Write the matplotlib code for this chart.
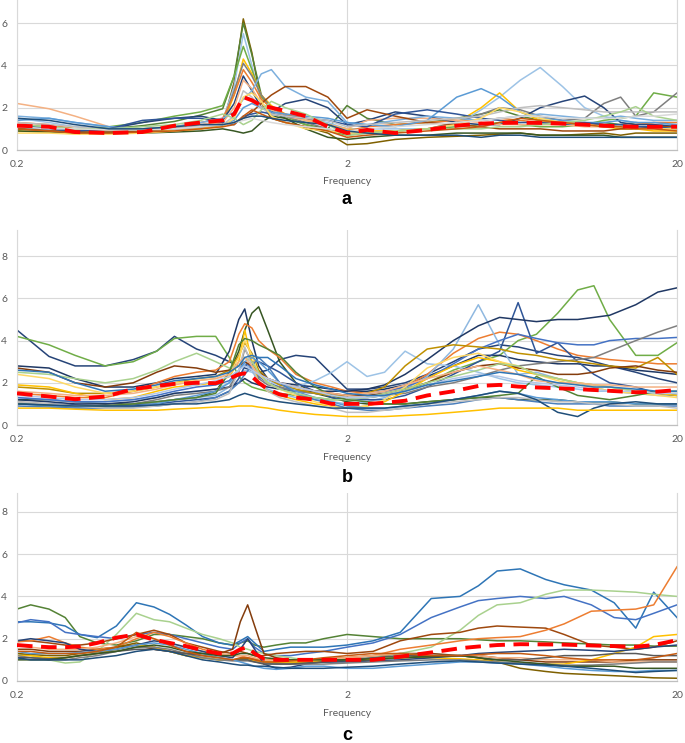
import matplotlib
matplotlib.use("Agg")
import matplotlib.pyplot as plt
from matplotlib.ticker import NullLocator

# ---------------- data ----------------
X_TICKS = [0.2, 2, 20]
X_TICK_LABELS = ["0.2", "2", "20"]
X_LABEL = "Frequency"
PANEL_LETTERS = ["a", "b", "c"]

# panel a
FA = [0.2, 0.25, 0.3, 0.38, 0.48, 0.6, 0.72, 0.84, 0.91, 0.97, 1.03, 1.1, 1.18, 1.3, 1.5, 1.75,
      2.0, 2.3, 2.8, 3.5, 4.3, 5.1, 5.8, 6.7, 7.7, 9.0, 10.5, 12, 13.5, 15, 17, 20]
A_COLORS = ['#7F6000', '#548235', '#9DC3E6', '#70AD47', '#FFC000', '#7F7F7F', '#ED7D31', '#264478',
            '#F4B183', '#7CAFDD', '#9E480E', '#5B9BD5', '#2F5597', '#BFBFBF', '#385723', '#FFD966',
            '#A9D18E', '#C55A11', '#D9D9D9', '#1F4E79']
A_LINES = [
    [1.0, 0.95, 0.85, 0.8, 0.85, 0.9, 1.0, 1.2, 3.2, 6.2, 4.6, 2.2, 1.5, 1.3, 1.1, 0.8,
     0.25, 0.3, 0.5, 0.6, 0.65, 0.7, 0.75, 0.8, 0.7, 0.7, 0.75, 0.8, 0.7, 0.8, 0.8, 0.8],
    [1.1, 1.0, 0.95, 1.0, 1.15, 1.35, 1.65, 1.95, 3.5, 6.0, 4.5, 2.6, 1.8, 1.5, 1.2, 1.0,
     2.1, 1.5, 1.2, 1.3, 1.5, 1.7, 1.9, 1.6, 1.4, 1.3, 1.2, 1.3, 1.2, 1.3, 1.2, 1.1],
    [1.5, 1.3, 1.1, 1.0, 1.0, 1.1, 1.2, 1.4, 3.0, 5.5, 4.0, 2.2, 1.8, 1.6, 1.5, 1.3,
     1.0, 1.0, 1.0, 1.0, 1.2, 1.9, 2.5, 3.3, 3.9, 3.0, 2.0, 1.6, 1.4, 1.3, 1.2, 1.2],
    [1.2, 1.1, 1.0, 1.1, 1.3, 1.6, 1.8, 2.1, 3.5, 4.9, 3.8, 2.5, 2.0, 1.6, 1.2, 0.9,
     0.7, 0.8, 0.9, 1.0, 1.1, 1.2, 1.3, 1.2, 1.1, 1.1, 1.2, 1.4, 1.5, 1.6, 2.7, 2.5],
    [0.9, 0.85, 0.8, 0.8, 0.85, 0.9, 1.0, 1.2, 2.6, 4.3, 3.6, 2.6, 2.1, 1.7, 1.4, 1.2,
     1.0, 0.9, 0.9, 1.0, 1.3, 2.0, 2.7, 1.8, 1.4, 1.3, 1.2, 1.1, 1.0, 1.0, 0.9, 0.9],
    [1.0, 0.95, 0.9, 0.9, 0.95, 1.0, 1.1, 1.3, 2.8, 4.1, 3.5, 2.6, 2.0, 1.6, 1.3, 1.0,
     0.8, 0.8, 0.9, 1.0, 1.3, 1.7, 2.0, 1.9, 1.6, 1.4, 1.5, 2.2, 2.5, 1.6, 1.8, 2.7],
    [1.3, 1.2, 1.0, 0.95, 1.0, 1.1, 1.3, 1.5, 2.6, 3.8, 3.2, 2.4, 2.0, 1.7, 1.5, 1.2,
     0.9, 1.1, 1.2, 1.3, 1.4, 1.4, 1.5, 1.4, 1.3, 1.3, 1.2, 1.2, 1.1, 1.2, 1.3, 1.3],
    [1.2, 1.0, 0.9, 1.0, 1.3, 1.5, 1.6, 1.4, 2.2, 3.5, 2.8, 2.0, 1.8, 2.2, 2.4, 2.0,
     1.2, 1.4, 1.8, 1.6, 1.3, 1.2, 1.2, 1.5, 2.0, 2.3, 2.55, 2.0, 1.3, 1.2, 1.2, 1.1],
    [2.2, 1.95, 1.6, 1.1, 1.0, 1.1, 1.2, 1.3, 2.0, 3.3, 2.9, 2.2, 1.9, 1.6, 1.4, 1.2,
     1.0, 1.4, 1.5, 1.5, 1.4, 1.3, 1.2, 1.2, 1.2, 1.2, 1.1, 1.1, 1.1, 1.1, 1.0, 1.0],
    [1.6, 1.5, 1.3, 1.1, 1.0, 1.1, 1.3, 1.5, 1.8, 2.4, 2.8, 3.6, 3.8, 3.0, 2.5, 2.3,
     1.3, 1.2, 1.4, 1.6, 1.5, 1.4, 1.5, 1.6, 1.7, 1.6, 1.5, 1.5, 1.6, 1.5, 1.4, 1.4],
    [1.0, 0.9, 0.85, 0.85, 0.9, 1.0, 1.1, 1.2, 1.3, 1.5, 1.8, 2.2, 2.6, 3.0, 3.0, 2.5,
     1.5, 1.9, 1.6, 1.3, 1.2, 1.1, 1.0, 1.0, 1.0, 0.9, 0.9, 0.9, 1.0, 1.0, 1.1, 1.1],
    [1.4, 1.5, 1.3, 1.1, 1.0, 1.0, 1.1, 1.2, 1.4, 2.0, 2.2, 2.0, 1.8, 1.7, 1.6, 1.5,
     1.3, 1.2, 1.1, 1.4, 2.5, 2.9, 2.5, 1.8, 1.5, 1.4, 1.3, 1.3, 1.4, 1.3, 1.3, 1.2],
    [1.1, 1.0, 0.9, 1.0, 1.4, 1.5, 1.5, 1.3, 1.2, 1.6, 1.7, 1.8, 1.7, 1.6, 1.5, 1.4,
     1.2, 1.1, 1.7, 1.9, 1.7, 1.5, 1.4, 1.3, 1.3, 1.2, 1.3, 1.2, 1.2, 1.1, 1.1, 1.0],
    [1.3, 1.2, 1.1, 1.0, 1.0, 1.0, 1.1, 1.2, 1.6, 2.8, 2.5, 2.0, 1.7, 1.6, 1.5, 1.4,
     1.1, 1.2, 1.3, 1.4, 1.5, 1.6, 1.8, 2.0, 2.1, 2.0, 1.9, 1.8, 1.8, 1.8, 1.8, 1.8],
    [0.9, 0.85, 0.8, 0.8, 0.8, 0.85, 0.9, 1.0, 0.9, 0.8, 0.9, 1.3, 1.6, 1.5, 1.0, 0.6,
     0.5, 0.6, 0.7, 0.7, 0.8, 0.8, 0.8, 0.8, 0.7, 0.7, 0.7, 0.7, 0.6, 0.6, 0.6, 0.6],
    [0.8, 0.8, 0.75, 0.75, 0.8, 0.9, 1.0, 1.1, 1.5, 2.5, 2.7, 2.3, 1.6, 1.3, 1.0, 0.9,
     0.8, 0.8, 0.9, 1.0, 1.2, 1.5, 2.0, 1.8, 1.5, 1.3, 1.2, 1.1, 1.1, 1.0, 1.0, 1.0],
    [1.2, 1.1, 1.0, 1.0, 1.1, 1.2, 1.4, 1.7, 1.5, 1.2, 1.4, 1.9, 2.3, 2.0, 1.7, 1.2,
     0.7, 0.8, 0.9, 1.0, 1.0, 1.0, 1.1, 1.1, 1.2, 1.3, 1.4, 1.6, 1.8, 2.05, 1.6, 1.4],
    [1.0, 0.9, 0.8, 0.8, 0.85, 0.9, 1.0, 1.1, 1.2, 1.6, 1.9, 1.7, 1.5, 1.3, 1.1, 0.9,
     0.6, 0.7, 0.8, 0.9, 1.0, 1.1, 1.3, 1.5, 1.4, 1.3, 1.2, 1.1, 1.1, 1.0, 1.0, 0.9],
    [1.1, 1.0, 1.0, 0.95, 0.95, 1.0, 1.1, 1.2, 1.3, 1.4, 1.5, 1.4, 1.3, 1.2, 1.1, 1.0,
     0.9, 1.0, 1.1, 1.2, 1.3, 1.4, 1.5, 1.6, 1.6, 1.5, 1.5, 1.5, 1.5, 1.6, 1.6, 1.7],
    [1.5, 1.4, 1.2, 1.0, 1.0, 1.1, 1.2, 1.2, 1.3, 1.5, 1.6, 1.6, 1.5, 1.4, 1.3, 1.2,
     0.9, 0.8, 0.7, 0.7, 0.7, 0.6, 0.7, 0.7, 0.6, 0.6, 0.6, 0.6, 0.6, 0.6, 0.6, 0.6],
]
A_MEAN = [1.15, 1.1, 0.85, 0.8, 0.85, 1.15, 1.3, 1.4, 1.7, 2.5, 2.35, 2.1, 2.0, 1.85, 1.6, 1.1,
          0.8, 0.95, 0.8, 0.95, 1.15, 1.25, 1.28, 1.29, 1.28, 1.25, 1.2, 1.15, 1.12, 1.1, 1.1, 1.1]

# panel b
FB = [0.2, 0.25, 0.3, 0.37, 0.45, 0.53, 0.6, 0.7, 0.8, 0.88, 0.94, 0.98, 1.03, 1.08, 1.15, 1.25,
      1.4, 1.6, 1.8, 2.0, 2.3, 2.6, 3.0, 3.5, 4.2, 5.0, 5.8, 6.6, 7.5, 8.7, 10, 11.2,
      12.5, 15, 17.5, 20]
B_COLORS = ['#264478', '#70AD47', '#1F3864', '#375623', '#ED7D31', '#9DC3E6', '#8FB8E0', '#2F5597',
            '#203864', '#4472C4', '#7F7F7F', '#BF9000', '#843C0C', '#FFC000', '#FFD966', '#5B9BD5',
            '#4A7EBB', '#A9D18E', '#548235', '#BFBFBF', '#1F4E79', '#F4B183', '#B4C7E7', '#2E75B6',
            '#FFC000']
B_LINES = [
    [4.5, 3.25, 2.8, 2.8, 3.1, 3.5, 4.2, 3.6, 3.3, 3.0, 2.8, 2.7, 2.6, 2.5, 2.6, 3.1,
     3.3, 3.2, 2.4, 1.7, 1.7, 1.8, 2.0, 2.4, 3.0, 3.6, 3.8, 3.7, 3.5, 3.3, 3.2, 3.0,
     2.8, 2.5, 2.2, 2.0],
    [4.2, 3.8, 3.3, 2.8, 3.0, 3.5, 4.1, 4.2, 4.2, 3.2, 2.3, 2.0, 1.8, 1.7, 1.6, 1.5,
     1.4, 1.3, 1.2, 1.2, 1.3, 1.4, 1.6, 2.0, 2.6, 3.0, 3.3, 4.0, 4.3, 5.3, 6.4, 6.6,
     5.0, 3.3, 3.3, 3.9],
    [2.8, 2.7, 2.2, 1.8, 1.8, 2.0, 2.2, 2.3, 2.4, 3.5, 5.0, 5.5, 4.0, 2.8, 2.2, 2.0,
     1.9, 1.8, 1.7, 1.6, 1.6, 1.7, 1.9, 2.3, 2.8, 3.3, 3.3, 3.1, 3.0, 2.9, 2.9, 2.8,
     2.8, 2.6, 2.5, 2.4],
    [1.2, 1.2, 1.1, 1.0, 1.0, 1.1, 1.2, 1.3, 1.6, 2.5, 3.5, 4.5, 5.3, 5.6, 4.5, 3.0,
     2.0, 1.5, 1.3, 1.1, 1.0, 1.0, 1.0, 1.1, 1.2, 1.3, 1.3, 1.2, 1.2, 1.2, 1.1, 1.1,
     1.1, 1.0, 1.0, 1.0],
    [1.5, 1.4, 1.3, 1.3, 1.6, 2.0, 2.3, 2.5, 2.6, 3.0, 4.3, 4.8, 4.6, 4.0, 3.6, 3.2,
     2.4, 2.0, 1.8, 1.6, 1.5, 1.6, 1.8, 2.4, 3.4, 4.1, 4.4, 4.3, 4.0, 3.6, 3.3, 3.2,
     3.1, 3.0, 2.9, 2.9],
    [1.3, 1.2, 1.1, 1.1, 1.2, 1.3, 1.5, 1.6, 1.7, 2.0, 2.4, 2.6, 2.5, 2.3, 2.1, 1.9,
     1.8, 2.1, 2.5, 3.0, 2.3, 2.5, 3.5, 2.9, 2.8, 2.5, 2.2, 2.0, 1.9, 1.8, 1.7, 1.6,
     1.6, 1.5, 1.5, 1.4],
    [1.0, 0.95, 0.9, 0.9, 1.0, 1.1, 1.2, 1.3, 1.4, 1.8, 2.6, 2.9, 2.6, 2.0, 1.7, 1.5,
     1.3, 1.2, 1.1, 1.0, 1.1, 1.3, 1.7, 2.3, 3.6, 5.7, 3.8, 2.4, 2.5, 2.2, 2.0, 1.8,
     1.6, 1.5, 1.4, 1.4],
    [1.0, 1.0, 0.95, 0.9, 0.95, 1.0, 1.1, 1.2, 1.3, 1.6, 2.2, 2.8, 3.0, 3.0, 2.8, 2.5,
     2.0, 1.6, 1.3, 1.2, 1.2, 1.2, 1.4, 1.8, 2.4, 3.0, 3.5, 5.8, 3.4, 3.9, 3.0, 2.4,
     2.0, 1.8, 1.5, 1.4],
    [1.2, 1.1, 1.0, 1.0, 1.1, 1.3, 1.5, 1.6, 1.7, 1.8, 2.0, 2.2, 2.0, 1.9, 1.8, 1.7,
     1.6, 1.6, 1.6, 1.6, 1.7, 1.9, 2.4, 3.1, 4.0, 4.7, 5.1, 5.0, 4.9, 5.0, 5.0, 5.1,
     5.2, 5.7, 6.3, 6.5],
    [1.3, 1.2, 1.1, 1.1, 1.2, 1.4, 1.6, 1.8, 1.9, 2.1, 2.6, 3.0, 2.7, 2.3, 2.0, 1.8,
     1.6, 1.5, 1.4, 1.4, 1.5, 1.6, 1.8, 2.2, 2.9, 3.6, 4.0, 4.3, 4.1, 3.9, 3.8, 3.8,
     4.0, 4.1, 4.1, 4.15],
    [1.1, 1.0, 0.9, 0.9, 1.0, 1.2, 1.4, 1.5, 1.6, 1.8, 2.5, 3.6, 3.0, 2.2, 1.9, 1.8,
     1.6, 1.5, 1.4, 1.3, 1.3, 1.4, 1.5, 1.8, 2.0, 2.3, 2.6, 2.8, 2.9, 3.0, 3.1, 3.2,
     3.5, 4.0, 4.4, 4.7],
    [1.8, 1.7, 1.5, 1.5, 1.6, 1.8, 2.0, 2.2, 2.3, 2.6, 3.3, 3.9, 3.4, 2.6, 2.2, 1.9,
     1.7, 1.5, 1.4, 1.4, 1.5, 1.8, 2.8, 3.6, 3.8, 3.7, 3.6, 3.4, 3.3, 3.1, 3.0, 2.9,
     2.8, 2.7, 3.2, 2.4],
    [2.7, 2.5, 2.0, 1.8, 2.0, 2.5, 2.8, 2.7, 2.5, 2.6, 2.8, 3.0, 2.8, 2.5, 2.2, 2.0,
     1.8, 1.6, 1.5, 1.4, 1.4, 1.5, 1.7, 2.0, 2.5, 2.8, 2.9, 2.7, 2.6, 2.4, 2.4, 2.5,
     2.7, 2.8, 2.6, 2.5],
    [1.9, 1.8, 1.5, 1.2, 1.3, 1.6, 1.8, 1.9, 2.0, 2.3, 3.0, 4.5, 3.0, 2.0, 1.6, 1.4,
     1.2, 1.0, 0.9, 0.8, 0.9, 1.1, 1.6, 2.2, 2.8, 3.2, 3.0, 2.6, 2.4, 2.2, 2.0, 1.9,
     1.8, 1.6, 1.5, 1.4],
    [2.4, 2.2, 1.8, 1.5, 1.6, 1.8, 2.0, 2.1, 2.2, 2.4, 3.2, 4.0, 3.3, 2.4, 2.0, 1.7,
     1.4, 1.1, 0.9, 0.8, 0.9, 1.2, 1.8, 2.7, 3.2, 3.4, 3.0, 2.8, 2.4, 2.1, 1.9, 1.8,
     1.6, 1.5, 1.4, 1.3],
    [1.0, 0.9, 0.85, 0.85, 0.9, 1.0, 1.2, 1.4, 1.6, 2.0, 2.6, 3.0, 3.2, 3.0, 2.6, 2.0,
     1.6, 1.3, 1.1, 0.9, 0.8, 0.8, 0.9, 1.0, 1.2, 1.4, 1.6, 1.5, 1.3, 1.2, 1.1, 1.1,
     1.1, 1.0, 1.0, 1.0],
    [0.9, 0.85, 0.8, 0.8, 0.85, 0.9, 1.0, 1.1, 1.3, 1.6, 2.0, 2.4, 2.8, 3.2, 2.8, 2.0,
     1.5, 1.2, 1.0, 0.8, 0.7, 0.7, 0.8, 0.9, 1.0, 1.2, 1.3, 1.2, 1.1, 1.0, 1.0, 1.0,
     0.9, 0.9, 0.9, 0.9],
    [2.5, 2.4, 2.2, 2.0, 2.2, 2.6, 3.0, 3.4, 3.0, 2.7, 2.8, 3.2, 3.0, 2.5, 2.0, 1.7,
     1.5, 1.3, 1.2, 1.2, 1.3, 1.5, 1.7, 2.0, 2.3, 2.6, 2.9, 2.8, 2.4, 2.2, 2.0, 1.9,
     1.8, 1.6, 1.5, 1.5],
    [1.0, 0.95, 0.9, 0.9, 1.0, 1.1, 1.2, 1.3, 1.5, 2.5, 3.8, 4.1, 4.0, 3.8, 3.6, 3.3,
     2.5, 1.8, 1.4, 1.2, 1.1, 1.0, 1.0, 1.1, 1.2, 1.3, 1.4, 1.5, 2.3, 1.8, 1.4, 1.3,
     1.2, 1.4, 1.6, 1.6],
    [1.1, 1.0, 0.9, 0.8, 0.8, 0.9, 1.0, 1.1, 1.2, 1.5, 2.6, 3.7, 2.8, 2.0, 1.6, 1.3,
     1.1, 0.9, 0.8, 0.6, 0.6, 0.7, 0.8, 1.0, 1.1, 1.2, 1.3, 1.3, 1.2, 1.1, 1.1, 1.0,
     1.0, 0.9, 0.9, 0.8],
    [1.0, 0.95, 0.9, 0.9, 0.9, 0.95, 1.0, 1.0, 1.1, 1.2, 1.4, 1.5, 1.4, 1.3, 1.2, 1.1,
     1.0, 0.9, 0.8, 0.8, 0.8, 0.8, 0.9, 1.0, 1.2, 1.4, 1.6, 1.5, 1.2, 0.6, 0.4, 0.8,
     1.0, 1.1, 1.0, 1.0],
    [1.6, 1.5, 1.4, 1.4, 1.5, 1.7, 1.9, 2.1, 2.2, 2.4, 3.0, 3.2, 2.8, 2.4, 2.2, 2.0,
     1.8, 1.6, 1.5, 1.4, 1.5, 1.6, 1.9, 2.2, 2.5, 2.8, 2.6, 2.4, 2.1, 2.0, 2.0, 1.9,
     1.9, 1.8, 1.8, 1.8],
    [1.4, 1.3, 1.2, 1.2, 1.3, 1.5, 1.7, 1.9, 2.1, 2.3, 2.6, 2.8, 2.6, 2.4, 2.2, 2.0,
     1.8, 1.6, 1.4, 1.3, 1.3, 1.4, 1.6, 1.9, 2.2, 2.4, 2.3, 2.1, 2.0, 1.9, 1.8, 1.7,
     1.6, 1.6, 1.5, 1.5],
    [2.6, 2.5, 2.0, 1.6, 1.7, 1.9, 2.1, 2.2, 2.3, 2.5, 2.8, 3.2, 3.3, 3.2, 3.2, 2.8,
     2.2, 1.9, 1.7, 1.5, 1.4, 1.4, 1.6, 1.9, 2.1, 2.3, 2.5, 2.4, 2.2, 2.0, 1.9, 1.8,
     1.8, 1.7, 1.6, 1.6],
    [0.8, 0.8, 0.75, 0.7, 0.7, 0.7, 0.75, 0.8, 0.85, 0.85, 0.9, 0.9, 0.9, 0.85, 0.8, 0.7,
     0.6, 0.5, 0.45, 0.4, 0.4, 0.4, 0.45, 0.5, 0.6, 0.7, 0.8, 0.8, 0.8, 0.8, 0.7, 0.7,
     0.7, 0.7, 0.7, 0.7],
]
B_MEAN = [1.5, 1.35, 1.22, 1.35, 1.7, 1.85, 1.95, 2.0, 1.98, 2.2, 2.4, 2.45, 2.3, 2.0, 1.7, 1.45,
          1.3, 1.2, 1.0, 1.0, 1.0, 1.05, 1.15, 1.4, 1.6, 1.85, 1.9, 1.82, 1.78, 1.74, 1.7, 1.66,
          1.62, 1.55, 1.58, 1.66]

# panel c
FC = [0.2, 0.22, 0.25, 0.28, 0.31, 0.35, 0.4, 0.46, 0.52, 0.58, 0.65, 0.73, 0.82, 0.9, 0.95, 1.0,
      1.05, 1.12, 1.22, 1.35, 1.5, 1.7, 2.0, 2.4, 2.9, 3.6, 4.4, 5.0, 5.7, 6.7, 8, 9.1,
      11, 12.9, 15, 17, 20]
C_COLORS = ['#548235', '#2E75B6', '#4472C4', '#A9D18E', '#843C0C', '#9E480E', '#ED7D31', '#F4B183',
            '#7F6000', '#FFC000', '#264478', '#7F7F7F', '#595959', '#5B9BD5', '#385723', '#C55A11',
            '#1F4E79']
C_LINES = [
    [3.4, 3.6, 3.4, 3.0, 2.1, 1.8, 1.7, 1.9, 2.2, 2.2, 2.1, 2.0, 1.8, 1.7, 1.8, 1.9,
     1.7, 1.6, 1.7, 1.8, 1.8, 2.0, 2.2, 2.1, 2.0, 2.0, 2.0, 1.95, 1.9, 1.9, 1.85, 1.8,
     1.75, 1.7, 1.7, 1.65, 1.65],
    [2.8, 2.8, 2.75, 2.6, 2.2, 2.05, 2.6, 3.7, 3.5, 3.15, 2.65, 2.1, 1.8, 1.7, 1.9, 2.1,
     1.8, 1.4, 1.5, 1.6, 1.6, 1.6, 1.7, 1.9, 2.3, 3.9, 4.0, 4.5, 5.2, 5.3, 4.8, 4.55,
     4.3, 3.7, 2.5, 4.2, 3.0],
    [2.75, 2.9, 2.8, 2.3, 2.2, 2.1, 2.0, 2.2, 2.3, 2.2, 2.0, 1.8, 1.6, 1.5, 1.8, 2.0,
     1.6, 1.3, 1.2, 1.2, 1.3, 1.4, 1.6, 1.8, 2.2, 3.0, 3.5, 3.8, 3.9, 4.0, 3.9, 4.0,
     3.6, 3.0, 2.9, 3.2, 3.6],
    [1.3, 1.2, 1.0, 0.85, 0.9, 1.4, 2.2, 3.2, 2.9, 2.8, 2.5, 2.2, 2.0, 1.8, 1.6, 1.5,
     1.4, 1.3, 1.2, 1.1, 1.0, 1.0, 1.0, 1.1, 1.3, 1.6, 2.4, 3.1, 3.6, 3.7, 4.1, 4.3,
     4.3, 4.25, 4.2, 4.1, 4.0],
    [1.5, 1.5, 1.4, 1.4, 1.4, 1.5, 1.6, 1.7, 1.5, 1.4, 1.3, 1.3, 1.3, 1.5, 2.8, 3.6,
     2.6, 1.3, 1.1, 1.0, 1.0, 1.0, 1.1, 1.2, 1.3, 1.3, 1.2, 1.2, 1.1, 1.0, 0.9, 0.9,
     0.9, 0.9, 1.0, 1.0, 1.0],
    [1.9, 1.9, 1.8, 1.7, 1.7, 1.8, 2.0, 2.2, 2.4, 2.2, 1.8, 1.6, 1.4, 1.3, 1.4, 1.3,
     1.2, 1.2, 1.3, 1.35, 1.4, 1.4, 1.3, 1.4, 1.9, 2.2, 2.3, 2.5, 2.6, 2.55, 2.5, 2.2,
     1.7, 1.6, 1.5, 1.6, 1.9],
    [1.85, 1.9, 2.1, 1.8, 1.6, 1.5, 1.6, 2.0, 2.3, 2.1, 1.8, 1.5, 1.3, 1.2, 1.2, 1.1,
     1.05, 1.0, 1.0, 1.0, 1.0, 1.05, 1.1, 1.2, 1.5, 1.7, 1.9, 2.0, 2.05, 2.1, 2.4, 2.7,
     3.3, 3.35, 3.4, 3.6, 5.4],
    [1.7, 1.6, 1.5, 1.5, 1.5, 1.6, 1.8, 2.1, 2.0, 1.8, 1.6, 1.4, 1.3, 1.2, 1.2, 1.2,
     1.1, 1.0, 0.95, 0.95, 0.95, 1.0, 1.1, 1.2, 1.3, 1.2, 1.2, 1.2, 1.1, 1.1, 1.0, 1.0,
     1.0, 0.9, 0.9, 0.9, 0.9],
    [1.3, 1.25, 1.2, 1.2, 1.3, 1.4, 1.6, 1.8, 1.6, 1.4, 1.2, 1.1, 1.0, 1.0, 1.05, 1.05,
     1.0, 0.9, 0.85, 0.85, 0.85, 0.9, 0.95, 1.0, 1.1, 1.2, 1.2, 1.1, 0.9, 0.6, 0.45, 0.36,
     0.3, 0.25, 0.2, 0.15, 0.13],
    [1.2, 1.2, 1.1, 1.1, 1.2, 1.3, 1.5, 1.7, 1.6, 1.4, 1.2, 1.1, 1.0, 1.0, 1.0, 1.0,
     0.95, 0.9, 0.9, 0.9, 0.9, 0.95, 1.0, 1.05, 1.1, 1.1, 1.05, 1.0, 0.9, 0.8, 0.8, 0.8,
     1.0, 1.3, 1.6, 2.1, 2.2],
    [1.9, 2.0, 1.9, 1.8, 1.5, 1.4, 1.5, 1.7, 1.9, 1.8, 1.6, 1.4, 1.2, 1.1, 1.5, 2.0,
     1.5, 0.8, 0.6, 0.65, 0.8, 0.9, 0.9, 0.95, 1.0, 1.1, 1.2, 1.3, 1.35, 1.4, 1.45, 1.5,
     1.45, 1.4, 1.5, 1.6, 1.7],
    [1.2, 1.1, 1.0, 1.0, 1.1, 1.2, 1.4, 1.6, 1.6, 1.5, 1.3, 1.1, 1.0, 0.95, 0.95, 0.95,
     0.9, 0.85, 0.8, 0.8, 0.8, 0.8, 0.85, 0.9, 0.95, 1.0, 1.0, 0.95, 0.9, 0.85, 0.8, 0.75,
     0.75, 0.8, 0.85, 0.9, 0.9],
    [1.1, 1.1, 1.05, 1.1, 1.2, 1.3, 1.4, 1.5, 1.5, 1.4, 1.3, 1.2, 1.1, 1.0, 1.0, 1.0,
     0.9, 0.8, 0.8, 0.8, 0.85, 0.9, 1.0, 1.1, 1.2, 1.2, 1.2, 1.1, 1.0, 1.0, 1.1, 1.2,
     1.2, 1.3, 1.3, 1.2, 1.2],
    [1.4, 1.3, 1.3, 1.3, 1.35, 1.4, 1.5, 1.7, 1.8, 1.7, 1.5, 1.3, 1.1, 1.0, 0.9, 0.8,
     0.7, 0.6, 0.55, 0.6, 0.7, 0.7, 0.6, 0.6, 0.7, 0.8, 0.9, 0.9, 0.85, 0.8, 0.7, 0.6,
     0.5, 0.45, 0.45, 0.5, 0.5],
    [1.0, 1.0, 1.0, 1.1, 1.2, 1.3, 1.4, 1.6, 1.7, 1.6, 1.4, 1.3, 1.2, 1.2, 1.3, 1.3,
     1.2, 1.1, 1.05, 1.0, 1.0, 1.0, 1.0, 1.05, 1.1, 1.15, 1.2, 1.1, 1.0, 0.9, 0.8, 0.7,
     0.7, 0.7, 0.6, 0.6, 0.6],
    [1.4, 1.4, 1.3, 1.3, 1.3, 1.4, 1.6, 2.3, 2.0, 1.7, 1.4, 1.2, 1.1, 1.0, 1.1, 1.1,
     1.0, 0.9, 0.9, 0.95, 1.0, 1.1, 1.2, 1.3, 1.3, 1.2, 1.2, 1.25, 1.3, 1.3, 1.2, 1.1,
     1.0, 1.0, 1.0, 1.1, 1.3],
    [1.1, 1.0, 1.0, 1.0, 1.0, 1.1, 1.2, 1.4, 1.5, 1.4, 1.2, 1.0, 0.9, 0.8, 0.75, 0.75,
     0.7, 0.7, 0.65, 0.6, 0.6, 0.6, 0.65, 0.7, 0.8, 0.9, 0.95, 0.9, 0.85, 0.8, 0.75, 0.7,
     0.6, 0.5, 0.4, 0.45, 0.5],
]
C_MEAN = [1.7, 1.65, 1.6, 1.6, 1.63, 1.8, 2.05, 2.2, 1.95, 1.8, 1.65, 1.45, 1.3, 1.3, 1.5, 1.6,
          1.3, 1.05, 1.0, 1.0, 1.0, 1.0, 1.0, 1.0, 1.15, 1.35, 1.55, 1.63, 1.7, 1.74, 1.73, 1.72,
          1.68, 1.65, 1.62, 1.7, 1.93]

# ---------------- figure ----------------
W, H = 685, 743
fig = plt.figure(figsize=(W / 100, H / 100), dpi=100)
plt.rcParams['font.family'] = ['Lato', 'DejaVu Sans']

GRID = '#D9D9D9'
TICKC = '#595959'


def box(left, top, right, bottom):
    return [left / W, 1 - bottom / H, (right - left) / W, (bottom - top) / H]


def panel(rect, freqs, lines, colors, mean, ymax, yticks, letter, xlab_y, letter_y):
    ax = fig.add_axes(box(*rect))
    for vals, col in zip(lines, colors):
        ax.plot(freqs, vals, color=col, lw=1.1, solid_joinstyle='round', zorder=2)
    ax.plot(freqs, mean, color='#FF0000', lw=2.8, linestyle=(0, (4, 2.2)), zorder=3)
    ax.set_xscale('log')
    ax.set_xlim(0.2, 20)
    ax.set_ylim(0, ymax)
    ax.set_xticks(X_TICKS)
    ax.set_xticklabels(X_TICK_LABELS)
    ax.xaxis.set_minor_locator(NullLocator())
    ax.set_yticks(yticks)
    ax.set_yticklabels([str(t) for t in yticks])
    ax.grid(True, color=GRID, lw=0.8)
    ax.set_axisbelow(True)
    for s in ['left', 'right']:
        ax.spines[s].set_color(GRID)
        ax.spines[s].set_linewidth(0.8)
    ax.spines['top'].set_visible(False)
    ax.spines['bottom'].set_color('#BFBFBF')
    ax.spines['bottom'].set_linewidth(0.9)
    ax.tick_params(length=0, labelsize=7.5, labelcolor=TICKC)
    ax.tick_params(axis='x', pad=7)
    ax.tick_params(axis='y', pad=7)
    mid = (rect[0] + rect[2]) / 2
    fig.text(mid / W, 1 - xlab_y / H, X_LABEL, ha='center', va='center',
             fontsize=7.5, color=TICKC)
    fig.text(mid / W, 1 - letter_y / H, letter, ha='center', va='center',
             fontsize=13, fontweight='bold', family=['Liberation Sans', 'DejaVu Sans'],
             color='#000000')
    return ax


panel((17, 0, 677, 150), FA, A_LINES, A_COLORS, A_MEAN, 150 / 21.15, [0, 2, 4, 6],
      PANEL_LETTERS[0], 182, 200)
panel((17, 230, 677, 425), FB, B_LINES, B_COLORS, B_MEAN, 195 / 21.1, [0, 2, 4, 6, 8],
      PANEL_LETTERS[1], 457, 477)
panel((17, 493, 677, 681), FC, C_LINES, C_COLORS, C_MEAN, 188 / 21.15, [0, 2, 4, 6, 8],
      PANEL_LETTERS[2], 713, 735)

fig.savefig('out.png', dpi=100)
